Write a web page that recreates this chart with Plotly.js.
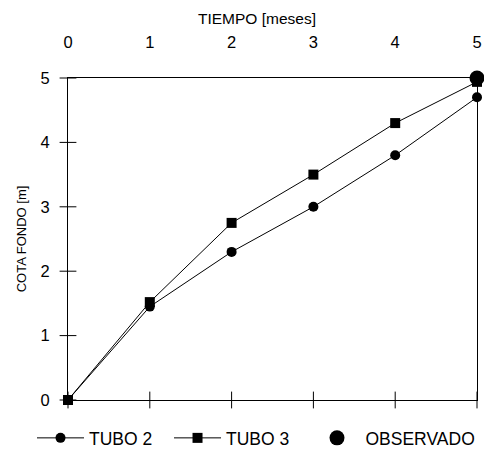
<!DOCTYPE html>
<html><head><meta charset="utf-8">
<script src="https://cdn.plot.ly/plotly-3.0.1.min.js"></script>
<style>body{margin:0;background:#fff}#c{width:484px;height:455px}</style>
</head><body><div id="c"></div>
<script>
const tiempo = [0, 1, 2, 3, 4, 5];
const tubo2 = [0, 1.45, 2.3, 3.0, 3.8, 4.7];
const tubo3 = [0, 1.52, 2.75, 3.5, 4.3, 4.94];
const obsX = [5];
const obsY = [5.0];
const ticks = [0, 1, 2, 3, 4, 5];

const F = 'Arial, "Liberation Sans", sans-serif';
const traces = [
  // crossing tick marks on the bottom and left axes
  {x: ticks, y: ticks.map(() => 0), mode: 'markers', cliponaxis: false, showlegend: false,
   hoverinfo: 'skip', marker: {symbol: 'line-ns', size: 12, color: '#000', line: {color: '#000', width: 1}}},
  {x: ticks.map(() => 0), y: ticks, mode: 'markers', cliponaxis: false, showlegend: false,
   hoverinfo: 'skip', marker: {symbol: 'line-ew', size: 12, color: '#000', line: {color: '#000', width: 1}}},
  {x: tiempo, y: tubo2, name: 'TUBO 2', mode: 'lines+markers', cliponaxis: false, legend: 'legend',
   line: {color: '#000', width: 1}, marker: {symbol: 'circle', size: 10, color: '#000'}},
  {x: tiempo, y: tubo3, name: 'TUBO 3', mode: 'lines+markers', cliponaxis: false, legend: 'legend2',
   line: {color: '#000', width: 1}, marker: {symbol: 'square', size: 10, color: '#000'}},
  {x: obsX, y: obsY, name: 'OBSERVADO', mode: 'markers', cliponaxis: false, legend: 'legend3',
   marker: {symbol: 'circle', size: 15, color: '#000'}}
];
const legBase = (x) => ({orientation: 'h', x: x, xanchor: 'left', y: -0.118, yanchor: 'middle',
  itemwidth: 47, font: {family: F, size: 17.5}, itemclick: false, bgcolor: 'rgba(0,0,0,0)'});
const layout = {
  width: 484, height: 455,
  margin: {l: 68, r: 7, t: 78, b: 55, autoexpand: false},
  paper_bgcolor: '#fff', plot_bgcolor: '#fff',
  font: {family: F, color: '#000', size: 16},
  showlegend: true,
  title: {text: 'TIEMPO [meses]', font: {family: F, size: 15.5, color: '#000'},
          xref: 'paper', x: 0.462, xanchor: 'center', yref: 'container', y: 0.96, yanchor: 'middle'},
  legend: legBase(-0.088),
  legend2: legBase(0.247),
  legend3: legBase(0.588),
  xaxis: {range: [0, 5], side: 'top', tickvals: ticks, ticktext: ticks.map(String),
          showgrid: false, zeroline: false, showline: true, linecolor: '#000', linewidth: 1,
          mirror: true, ticks: '', ticklabelstandoff: 22,
          tickfont: {family: F, size: 16.5}},
  yaxis: {range: [0, 5], tickvals: ticks, showgrid: false, zeroline: false,
          showline: true, linecolor: '#000', linewidth: 1, mirror: true,
          ticks: '', ticklabelstandoff: 14, tickfont: {family: F, size: 16.5},
          title: {text: 'COTA FONDO [m]', font: {family: F, size: 13}, standoff: 10}}
};
Plotly.newPlot('c', traces, layout, {staticPlot: true});
</script></body></html>
